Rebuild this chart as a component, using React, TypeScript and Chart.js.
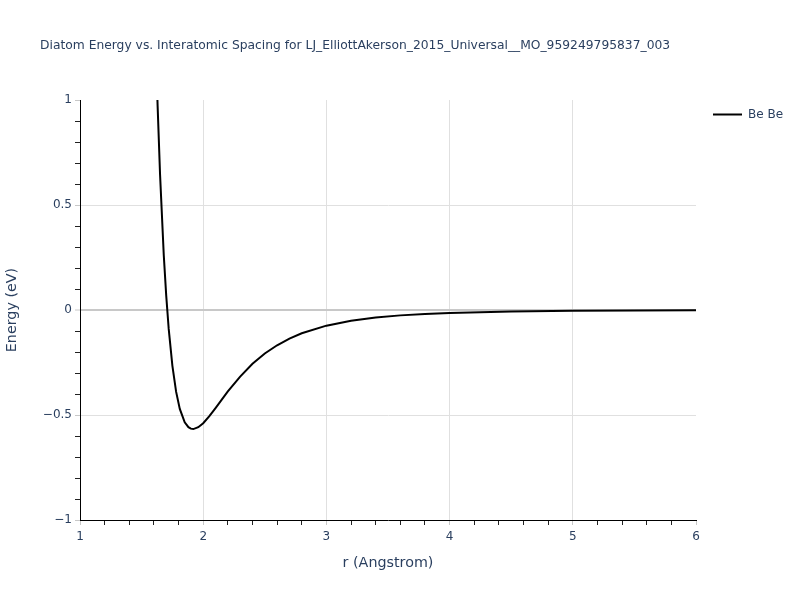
import React, { useEffect, useRef } from "react";
import { Chart, registerables } from "chart.js";

Chart.register(...registerables);

const TITLE =
  "Diatom Energy vs. Interatomic Spacing for LJ_ElliottAkerson_2015_Universal__MO_959249795837_003";
const X_TITLE = "r (Angstrom)";
const Y_TITLE = "Energy (eV)";
const SERIES_LABEL = "Be Be";

const rValues = [
  1.6, 1.62, 1.63, 1.65, 1.68, 1.7, 1.72, 1.75, 1.78, 1.81, 1.85, 1.88, 1.9, 1.92,
  1.96, 2.0, 2.05, 2.1, 2.2, 2.3, 2.4, 2.5, 2.6, 2.7, 2.8, 3.0, 3.2, 3.4, 3.6, 3.8,
  4.0, 4.5, 5.0, 5.5, 6.0,
];
const energyValues = [
  1.61, 1.163, 0.972, 0.643, 0.261, 0.067, -0.09, -0.266, -0.389, -0.471, -0.535,
  -0.558, -0.565, -0.567, -0.558, -0.539, -0.505, -0.467, -0.388, -0.317, -0.256,
  -0.207, -0.168, -0.136, -0.111, -0.0746, -0.0512, -0.0359, -0.0256, -0.0186,
  -0.0137, -0.0068, -0.0036, -0.002, -0.0012,
];

const X_MIN = 1;
const X_MAX = 6;
const Y_MIN = -1;
const Y_MAX = 1;

const FONT = "'DejaVu Sans', Verdana, sans-serif";
const TEXT_COLOR = "#2a3f5f";
const GRID_COLOR = "#e0e0e0";
const ZERO_COLOR = "#c8c8c8";
const MAJOR_TICK_COLOR = "#c8c8c8";
const MINOR_TICK_COLOR = "#222222";

const isMult = (v: number, step: number) =>
  Math.abs(v / step - Math.round(v / step)) < 1e-6;

const fmt = (v: number) => {
  const r = Math.round(v * 10) / 10;
  const s = String(Math.abs(r));
  return r < 0 ? "\u2212" + s : s;
};

const overlayPlugin = {
  id: "overlay",
  afterDraw(chart: any) {
    const ctx = chart.ctx;
    ctx.save();
    ctx.fillStyle = TEXT_COLOR;
    ctx.font = `12.3px ${FONT}`;
    ctx.textAlign = "left";
    ctx.textBaseline = "middle";
    ctx.fillText(TITLE, 40, 46);

    // legend
    const ds = chart.data.datasets[0];
    ctx.strokeStyle = ds.borderColor;
    ctx.lineWidth = 2;
    ctx.beginPath();
    ctx.moveTo(713, 114.5);
    ctx.lineTo(742, 114.5);
    ctx.stroke();
    ctx.fillStyle = TEXT_COLOR;
    ctx.font = `12px ${FONT}`;
    ctx.fillText(ds.label, 748, 115);
    ctx.restore();
  },
};

export default function App() {
  const canvasRef = useRef<HTMLCanvasElement | null>(null);

  useEffect(() => {
    const canvas = canvasRef.current;
    if (!canvas) return;
    const points = rValues.map((r, i) => ({ x: r, y: energyValues[i] }));
    const chart = new Chart(canvas, {
      type: "line",
      data: {
        datasets: [
          {
            label: SERIES_LABEL,
            data: points,
            borderColor: "#000000",
            borderWidth: 2,
            pointRadius: 0,
            tension: 0,
            fill: false,
          },
        ],
      },
      options: {
        animation: false,
        responsive: false,
        devicePixelRatio: 1,
        layout: { padding: { left: 0, right: 104, top: 100, bottom: 0 } },
        plugins: {
          legend: { display: false },
          title: { display: false },
          tooltip: { enabled: false },
        },
        scales: {
          x: {
            type: "linear",
            min: X_MIN,
            max: X_MAX,
            afterFit: (s: any) => {
              s.height = 80;
            },
            border: { display: true, color: "#000000", width: 1 },
            grid: {
              drawOnChartArea: true,
              drawTicks: true,
              tickLength: 5,
              color: (c: any) => {
                const v = c.tick ? c.tick.value : 0;
                return isMult(v, 1) && v > X_MIN + 1e-6 && v < X_MAX - 1e-6
                  ? GRID_COLOR
                  : "rgba(0,0,0,0)";
              },
              tickColor: (c: any) => {
                const v = c.tick ? c.tick.value : 0;
                return isMult(v, 1) ? MAJOR_TICK_COLOR : MINOR_TICK_COLOR;
              },
            },
            ticks: {
              stepSize: 0.2,
              autoSkip: false,
              maxRotation: 0,
              padding: 5,
              color: TEXT_COLOR,
              font: { family: FONT, size: 12 },
              callback: (v: any) => (isMult(Number(v), 1) ? fmt(Number(v)) : ""),
            },
            title: {
              display: true,
              text: X_TITLE,
              color: TEXT_COLOR,
              font: { family: FONT, size: 14.3 },
              padding: { top: 0, bottom: 28 },
            },
          },
          y: {
            type: "linear",
            min: Y_MIN,
            max: Y_MAX,
            afterFit: (s: any) => {
              s.width = 80;
            },
            border: { display: true, color: "#000000", width: 1 },
            grid: {
              drawOnChartArea: true,
              drawTicks: true,
              tickLength: 5,
              color: (c: any) => {
                const v = c.tick ? c.tick.value : 0;
                if (Math.abs(v) < 1e-6) return ZERO_COLOR;
                return isMult(v, 0.5) && v > Y_MIN + 1e-6 && v < Y_MAX - 1e-6
                  ? GRID_COLOR
                  : "rgba(0,0,0,0)";
              },
              lineWidth: (c: any) => {
                const v = c.tick ? c.tick.value : 1;
                return Math.abs(v) < 1e-6 ? 2 : 1;
              },
              tickColor: (c: any) => {
                const v = c.tick ? c.tick.value : 0;
                return isMult(v, 0.5) ? MAJOR_TICK_COLOR : MINOR_TICK_COLOR;
              },
              tickWidth: 1,
            },
            ticks: {
              stepSize: 0.1,
              autoSkip: false,
              padding: 3,
              color: TEXT_COLOR,
              font: { family: FONT, size: 12 },
              callback: (v: any) => (isMult(Number(v), 0.5) ? fmt(Number(v)) : ""),
            },
            title: {
              display: true,
              text: Y_TITLE,
              color: TEXT_COLOR,
              font: { family: FONT, size: 14.3 },
              padding: { top: 4, bottom: 0 },
            },
          },
        },
      },
      plugins: [overlayPlugin],
    });
    return () => chart.destroy();
  }, []);

  return (
    <div style={{ position: "fixed", left: 0, top: 0, width: 800, height: 600, background: "#fff" }}>
      <canvas ref={canvasRef} width={800} height={600} />
    </div>
  );
}
